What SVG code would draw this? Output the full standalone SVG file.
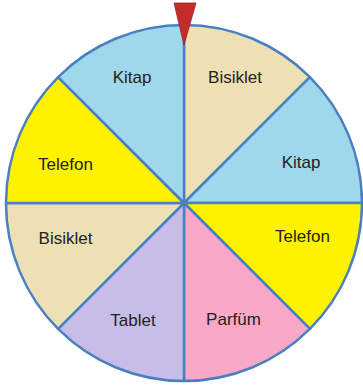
<svg xmlns="http://www.w3.org/2000/svg" width="363" height="392" viewBox="0 0 363 392">
<style>
.s{stroke:#4a80c2;stroke-width:2.5;stroke-linejoin:round}
.b{fill:#9fd8ea}.g{fill:#ece0b4}.y{fill:#fff200}.p{fill:#f8a9c8}.l{fill:#c6bee6}
text{font-family:"Liberation Sans",Arial,sans-serif;font-size:17px;fill:#222;text-anchor:middle}
</style>
<rect width="363" height="392" fill="#fff"/>
<g id="wheel">
<g id="s1"><path class="s g" d="M184,203 L184,25 A178,178 0 0 1 309.9,77.1 Z"/><text x="235" y="83">Bisiklet</text></g>
<g id="s2"><path class="s b" d="M184,203 L309.9,77.1 A178,178 0 0 1 362,203 Z"/><text x="301" y="168">Kitap</text></g>
<g id="s3"><path class="s y" d="M184,203 L362,203 A178,178 0 0 1 309.9,328.9 Z"/><text x="302.5" y="242">Telefon</text></g>
<g id="s4"><path class="s p" d="M184,203 L309.9,328.9 A178,178 0 0 1 184,381 Z"/><text x="233.5" y="325">Parfüm</text></g>
<g id="s5"><path class="s l" d="M184,203 L184,381 A178,178 0 0 1 58.1,328.9 Z"/><text x="133" y="326">Tablet</text></g>
<g id="s6"><path class="s g" d="M184,203 L58.1,328.9 A178,178 0 0 1 6,203 Z"/><text x="65.5" y="244">Bisiklet</text></g>
<g id="s7"><path class="s y" d="M184,203 L6,203 A178,178 0 0 1 58.1,77.1 Z"/><text x="65.5" y="170">Telefon</text></g>
<g id="s8"><path class="s b" d="M184,203 L58.1,77.1 A178,178 0 0 1 184,25 Z"/><text x="132" y="83">Kitap</text></g>
</g>
<g id="pointer"><path d="M174,3 L196,3 L184,45 Z" fill="#c42c2c" stroke="#a51f22" stroke-width="0.8"/></g>
</svg>
